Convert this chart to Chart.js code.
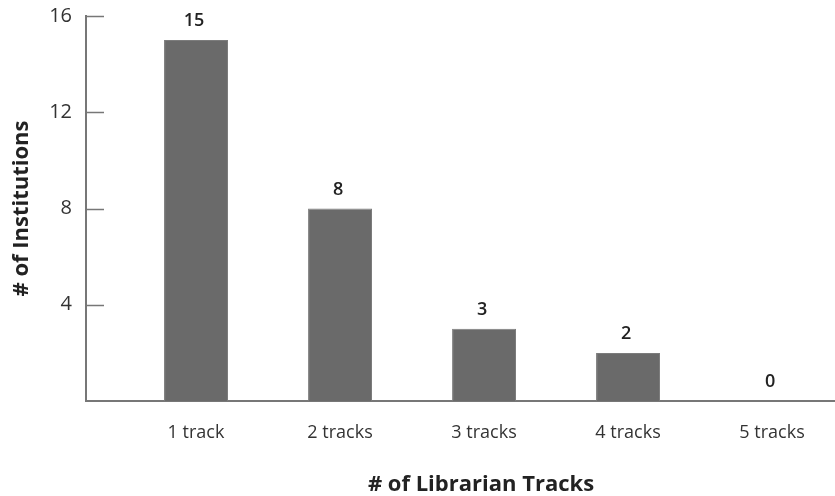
<!DOCTYPE html>
<html>
<head>
<meta charset="utf-8">
<script src="https://cdn.jsdelivr.net/npm/chart.js@4"></script>
<style>
  html, body { margin: 0; padding: 0; background: #fff; }
  #wrap { width: 835px; height: 496px; }
</style>
</head>
<body>
<div id="wrap"><canvas id="myChart"></canvas></div>
<script>
const categories = ['1 track', '2 tracks', '3 tracks', '4 tracks', '5 tracks'];
const institutions = [15, 8, 3, 2, 0];
const yTicks = [4, 8, 12, 16];
const xTitle = '# of Librarian Tracks';

const fontFamily = '"Open Sans", Lato, sans-serif';

// short tick marks on the inside of the y axis
const innerTicks = {
  id: 'innerTicks',
  afterDraw(chart) {
    const y = chart.scales.y;
    const c = chart.ctx;
    c.save();
    c.strokeStyle = '#777';
    c.lineWidth = 1.5;
    yTicks.forEach(v => {
      const py = Math.round(y.getPixelForValue(v)) + 0.5;
      c.beginPath();
      c.moveTo(y.right, py);
      c.lineTo(y.right + 18, py);
      c.stroke();
    });
    c.restore();
  }
};

// value labels above bars + x axis title (sits a bit right of centre)
const valueLabels = {
  id: 'valueLabels',
  afterDatasetsDraw(chart) {
    const c = chart.ctx;
    const meta = chart.getDatasetMeta(0);
    c.save();
    c.fillStyle = '#222';
    c.font = '600 18px ' + fontFamily;
    c.textAlign = 'center';
    c.textBaseline = 'middle';
    meta.data.forEach((bar, i) => {
      c.fillText(String(institutions[i]), bar.x - 2, bar.y - 19);
    });
    c.font = 'bold 22px ' + fontFamily;
    c.fillText(xTitle, 481, 485);
    c.restore();
  }
};

const ctx = document.getElementById('myChart');

new Chart(ctx, {
  type: 'bar',
  data: {
    datasets: [{
      data: institutions.map((v, i) => ({ x: i + 1, y: v })),
      backgroundColor: '#6a6a6a',
      borderColor: '#7c7c7c',
      borderWidth: 1,
      barPercentage: 0.444,
      categoryPercentage: 1
    }]
  },
  options: {
    responsive: true,
    maintainAspectRatio: false,
    animation: false,
    layout: { padding: { top: 16, right: 0, left: 0, bottom: 0 } },
    plugins: {
      legend: { display: false },
      tooltip: { enabled: false }
    },
    scales: {
      x: {
        type: 'linear',
        min: 0.236,
        max: 5.437,
        offset: false,
        afterBuildTicks: s => { s.ticks = categories.map((c, i) => ({ value: i + 1 })); },
        afterFit: s => { s.height = 95; s.paddingRight = 0; s.paddingLeft = 0; },
        grid: { display: false, drawTicks: false },
        border: { color: '#777', width: 2 },
        ticks: {
          padding: 21,
          color: '#333',
          font: { family: fontFamily, size: 18 },
          maxRotation: 0,
          autoSkip: false,
          callback: v => categories[v - 1]
        }
      },
      y: {
        min: 0,
        max: 16,
        afterBuildTicks: s => { s.ticks = yTicks.map(v => ({ value: v })); },
        afterFit: s => { s.width = 86; s.paddingTop = 0; s.paddingBottom = 0; },
        grid: { display: false, drawTicks: false },
        border: { color: '#777', width: 2 },
        ticks: {
          padding: 14,
          color: '#333',
          font: { family: fontFamily, size: 20 }
        },
        title: {
          display: true,
          text: '# of Institutions',
          color: '#222',
          font: { family: fontFamily, size: 22, weight: 'bold' },
          padding: { top: 9, bottom: 0 }
        }
      }
    }
  },
  plugins: [innerTicks, valueLabels]
});
</script>
</body>
</html>
